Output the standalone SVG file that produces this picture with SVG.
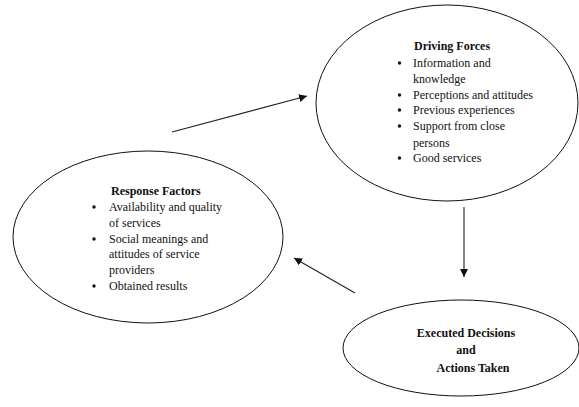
<svg xmlns="http://www.w3.org/2000/svg" width="579" height="407" viewBox="0 0 579 407">
<style>
.node ellipse{fill:#fff;stroke:#111;stroke-width:1}
text{font-family:"Liberation Serif","Times New Roman",serif;font-size:12px;fill:#111}
.t{font-weight:bold}
.dot{fill:#111}
.conn line{stroke:#222;stroke-width:1.1}
</style>
<defs>
<marker id="ah" viewBox="0 0 10 10" refX="10" refY="5" markerWidth="8" markerHeight="8" markerUnits="userSpaceOnUse" orient="auto">
<path d="M0,0 L10,5 L0,10 z" fill="#111"/>
</marker>
</defs>
<rect width="579" height="407" fill="#fff"/>
<g id="driving" class="node">
<ellipse cx="447" cy="103" rx="131" ry="98"/>
<text x="414" y="50" class="t">Driving Forces</text>
<circle class="dot" cx="399.5" cy="63" r="1.7"/>
<text x="413" y="67">Information and</text>
<text x="413" y="83">knowledge</text>
<circle class="dot" cx="399.5" cy="95" r="1.7"/>
<text x="413" y="99">Perceptions and attitudes</text>
<circle class="dot" cx="399.5" cy="110" r="1.7"/>
<text x="413" y="114">Previous experiences</text>
<circle class="dot" cx="399.5" cy="126" r="1.7"/>
<text x="413" y="130">Support from close</text>
<text x="413" y="147">persons</text>
<circle class="dot" cx="399.5" cy="158" r="1.7"/>
<text x="413" y="162">Good services</text>
</g>
<g id="response" class="node">
<ellipse cx="148" cy="237" rx="135" ry="86"/>
<text x="111" y="195" class="t">Response Factors</text>
<circle class="dot" cx="94" cy="207" r="1.7"/>
<text x="109" y="211">Availability and quality</text>
<text x="109" y="227">of services</text>
<circle class="dot" cx="94" cy="239" r="1.7"/>
<text x="109" y="243">Social meanings and</text>
<text x="109" y="258">attitudes of service</text>
<text x="109" y="274">providers</text>
<circle class="dot" cx="94" cy="286" r="1.7"/>
<text x="109" y="290">Obtained results</text>
</g>
<g id="executed" class="node">
<ellipse cx="461" cy="348" rx="118" ry="48"/>
<text x="466" y="337" class="t" text-anchor="middle">Executed Decisions</text>
<text x="466" y="354" class="t" text-anchor="middle">and</text>
<text x="473" y="372" class="t" text-anchor="middle">Actions Taken</text>
</g>
<g id="connectors" class="conn">
<line x1="172" y1="132" x2="307" y2="96" marker-end="url(#ah)"/>
<line x1="464" y1="207" x2="464" y2="277" marker-end="url(#ah)"/>
<line x1="355" y1="293" x2="294" y2="258" marker-end="url(#ah)"/>
</g>
</svg>
